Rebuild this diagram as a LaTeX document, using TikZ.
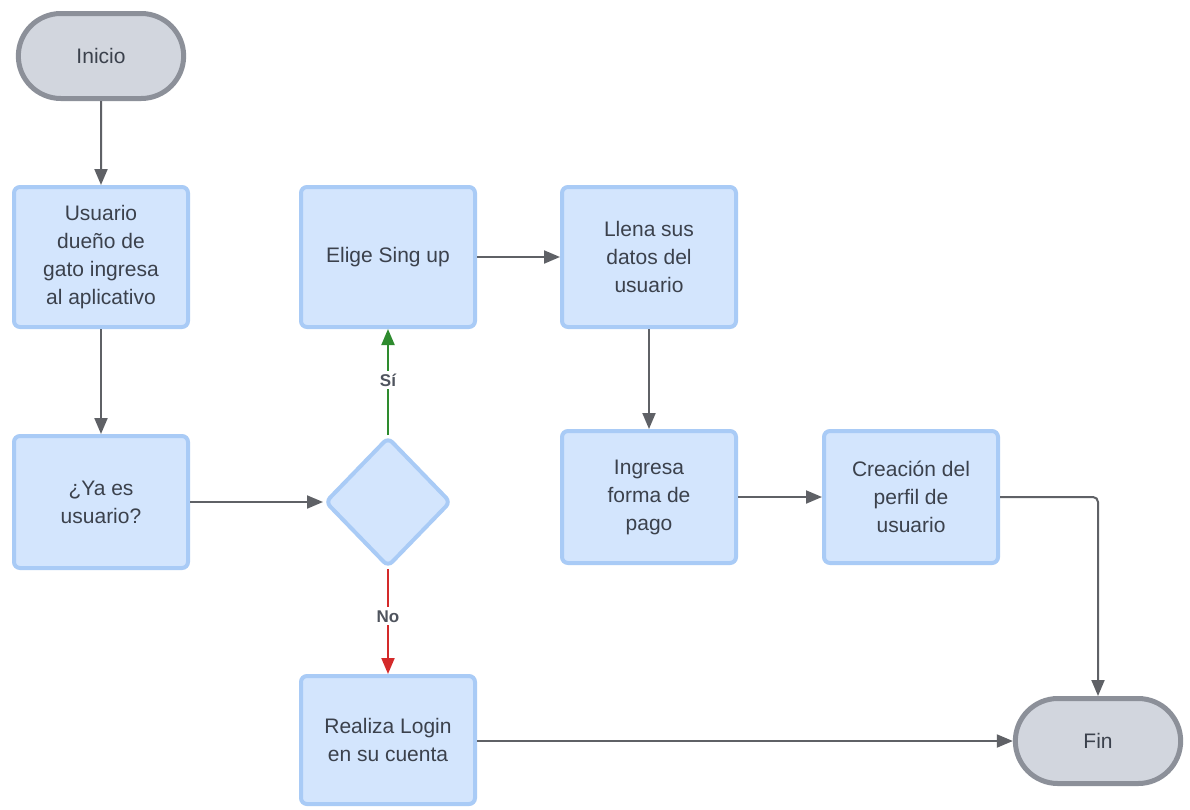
\documentclass[tikz,border=0pt]{standalone}
\usepackage{fontspec}
\setmainfont{Liberation Sans}
\usetikzlibrary{shapes.geometric,shapes.misc,arrows.meta}
\definecolor{boxfill}{HTML}{D3E5FD}
\definecolor{boxline}{HTML}{A9CBF6}
\definecolor{termfill}{HTML}{D2D6DE}
\definecolor{termline}{HTML}{8C9099}
\definecolor{txt}{HTML}{3B414C}
\definecolor{conn}{HTML}{5F6166}
\definecolor{yesc}{HTML}{2E8B2E}
\definecolor{noc}{HTML}{D42A2A}
\tikzset{
  every node/.style={text=txt},
  procbox/.style={draw=boxline, fill=boxfill, line width=4pt, rounded corners=6pt,
    minimum width=174pt, minimum height=140pt, align=center,
    font=\fontsize{21}{28}\selectfont},
  term/.style={draw=termline, fill=termfill, line width=5pt, rounded rectangle,
    minimum width=172pt, minimum height=85pt, font=\fontsize{21}{26}\selectfont},
  decision/.style={draw=boxline, fill=boxfill, line width=4pt, diamond,
    rounded corners=6pt, minimum width=126pt, minimum height=130pt},
  tip/.style={-{Triangle[length=16pt,width=13pt,fill=#1]}},
  link/.style={draw=conn, line width=2pt, tip=conn},
  tag/.style={fill=white, text=txt!90, font=\bfseries\fontsize{17}{20}\selectfont, inner sep=3pt}
}
\begin{document}
\begin{tikzpicture}[x=1pt,y=-1pt]
\useasboundingbox[fill=white] (0,0) rectangle (1190,809);

\node[term] (inicio) at (101,56) {Inicio};
\node[procbox] (usuario) at (101,257) {Usuario\\dueño de\\gato ingresa\\al aplicativo};
\node[procbox, minimum height=132pt] (yaes) at (101,502) {¿Ya es\\usuario?};
\node[decision] (dec) at (388,502) {};
\node[procbox] (elige) at (388,257) {Elige Sing up};
\node[procbox] (llena) at (649,257) {Llena sus\\datos del\\usuario};
\node[procbox, minimum height=132pt] (pago) at (649,497) {Ingresa\\forma de\\pago};
\node[procbox, minimum height=132pt] (perfil) at (911,497) {Creación del\\perfil de\\usuario};
\node[procbox, minimum height=128pt] (login) at (388,740) {Realiza Login\\en su cuenta};
\node[term] (fin) at (1098,741) {Fin};

\draw[link] (inicio) -- (usuario);
\draw[link] (usuario) -- (yaes);
\draw[link] (yaes) -- (dec);
\draw[link, draw=yesc, tip=yesc] (dec.north) -- (elige.south)
  node[tag, pos=0.52] {Sí};
\draw[link, draw=noc, tip=noc] (dec.south) -- (login.north)
  node[tag, pos=0.45] {No};
\draw[link] (elige) -- (llena);
\draw[link] (llena) -- (pago);
\draw[link] (pago) -- (perfil);
\draw[link, rounded corners=5pt] (perfil.east) -| (fin.north);
\draw[link] (login.east |- fin.west) -- (fin.west);
\end{tikzpicture}
\end{document}
